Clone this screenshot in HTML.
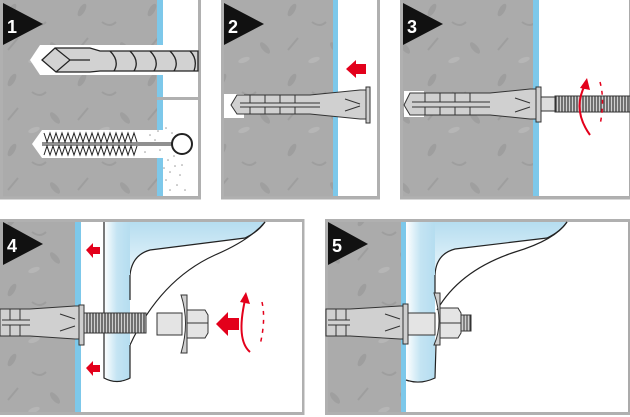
<!DOCTYPE html>
<html><head><meta charset="utf-8"><style>
html,body{margin:0;padding:0;background:#fff;width:630px;height:417px;overflow:hidden}
svg{display:block}
</style></head><body>
<svg width="630" height="417" viewBox="0 0 630 417" xmlns="http://www.w3.org/2000/svg" font-family="Liberation Sans, sans-serif">
<defs>
<linearGradient id="pipe" x1="0" x2="1" y1="0" y2="0">
<stop offset="0" stop-color="#fff"/><stop offset="0.5" stop-color="#c4e4f3"/><stop offset="1" stop-color="#b5ddf0"/>
</linearGradient>
<linearGradient id="brk" x1="0" x2="0" y1="0" y2="1">
<stop offset="0" stop-color="#b5ddf0"/><stop offset="1" stop-color="#eaf6fb"/>
</linearGradient>
<pattern id="speck" width="70" height="70" patternUnits="userSpaceOnUse">
<rect width="70" height="70" fill="#ababab"/>
<ellipse cx="12" cy="10" rx="3" ry="7" fill="#9e9e9e" transform="rotate(30 12 10)"/>
<path d="M32 22 q8 6 14 0" stroke="#9e9e9e" stroke-width="2" fill="none"/>
<ellipse cx="55" cy="48" rx="3" ry="7" fill="#9f9f9f" transform="rotate(-40 55 48)"/>
<path d="M8 50 l10 -12" stroke="#9e9e9e" stroke-width="2"/>
<ellipse cx="34" cy="60" rx="2.5" ry="6" fill="#b6b6b6" transform="rotate(70 34 60)"/>
</pattern>
</defs>

<!-- PANEL 1 -->
<rect x="1.5" y="-2" width="198" height="200" fill="url(#speck)" stroke="#b0b0b0" stroke-width="3"/>
<rect x="157" y="0" width="6" height="196" fill="#7dc8ea"/>
<rect x="163" y="0" width="35" height="196" fill="#fff"/>
<rect x="157" y="97" width="41" height="3" fill="#b0b0b0"/>
<path d="M40 45 H163 V75 H40 L30 60 Z" fill="#fff"/>
<path d="M42 60 L55 48 H90 L100 51 H198 V71 H100 L90 72 H56 Z" fill="#d2d2d2" stroke="#222" stroke-width="1.3"/>
<path d="M55 48 L70 60 L56 72 M70 60 H90" stroke="#222" stroke-width="1.2" fill="none"/>
<path d="M110 51 q10 10 4 20 M130 51 q10 10 4 20 M150 51 q10 10 4 20 M170 51 q10 10 4 20 M190 51 q8 8 4 20" stroke="#222" stroke-width="1.3" fill="none"/>
<path d="M42 130 H163 V158 H42 L32 144 Z" fill="#fff"/>
<g stroke="#222" stroke-width="1">
<path d="M44 133 l3 9 l3 -9 l3 9 l3 -9 l3 9 l3 -9 l3 9 l3 -9 l3 9 l3 -9 l3 9 l3 -9 l3 9 l3 -9 l3 9 l3 -9 l3 9 l3 -9 l3 9 l3 -9 l3 9 l3 -9 l3 9 l3 -9 l3 9 l3 -9 l3 9 l3 -9 l3 9 l3 -9 l3 9" fill="none"/>
<path d="M44 155 l3 -9 l3 9 l3 -9 l3 9 l3 -9 l3 9 l3 -9 l3 9 l3 -9 l3 9 l3 -9 l3 9 l3 -9 l3 9 l3 -9 l3 9 l3 -9 l3 9 l3 -9 l3 9 l3 -9 l3 9 l3 -9 l3 9 l3 -9 l3 9 l3 -9 l3 9 l3 -9 l3 9 l3 -9" fill="none"/>
<path d="M42 143 H172 M42 145 H172" />
</g>
<circle cx="182" cy="144" r="10" fill="#fff" stroke="#222" stroke-width="2"/>
<g fill="#999">
<circle cx="150" cy="135" r="0.8"/><circle cx="158" cy="131" r="0.8"/><circle cx="166" cy="128" r="0.8"/><circle cx="172" cy="133" r="0.8"/><circle cx="145" cy="152" r="0.8"/><circle cx="160" cy="150" r="0.8"/><circle cx="168" cy="160" r="0.8"/><circle cx="175" cy="166" r="0.8"/><circle cx="170" cy="172" r="0.8"/><circle cx="180" cy="175" r="0.8"/><circle cx="166" cy="180" r="0.8"/><circle cx="177" cy="185" r="0.8"/><circle cx="170" cy="190" r="0.8"/><circle cx="182" cy="165" r="0.8"/><circle cx="164" cy="168" r="0.8"/><circle cx="174" cy="156" r="0.8"/><circle cx="185" cy="190" r="0.8"/><circle cx="155" cy="140" r="0.8"/>
</g>
<path d="M3 3 V45 L43 24 Z" fill="#111"/>
<text x="7" y="33" fill="#fff" font-size="18" font-weight="bold">1</text>

<!-- PANEL 2 -->
<rect x="222.5" y="-2" width="156" height="200" fill="url(#speck)" stroke="#b0b0b0" stroke-width="3"/>
<rect x="333" y="0" width="5" height="196" fill="#7dc8ea"/>
<rect x="338" y="0" width="39" height="196" fill="#fff"/>
<rect x="224" y="94" width="20" height="24" fill="#fff"/>
<path d="M237 95 H310 L360 90 H367 V119 H360 L310 114 H237 L231 105 Z" fill="#d0d0d0" stroke="#333" stroke-width="1"/>
<path d="M240 103 H320 M240 107 H320 M250 95 v8 M265 95 v8 M280 95 v8 M295 95 v8 M250 107 v7 M265 107 v7 M280 107 v7 M295 107 v7 M345 99 l15 5 M345 111 l15 -5" stroke="#333" stroke-width="1" fill="none"/>
<rect x="366" y="87" width="4" height="36" fill="#cfcfcf" stroke="#333" stroke-width="1"/>
<path d="M346 69 L356 60 V64 H366 V74 H356 V78 Z" fill="#e3001b"/>
<path d="M224 3 V45 L264 24 Z" fill="#111"/>
<text x="228" y="33" fill="#fff" font-size="18" font-weight="bold">2</text>

<!-- PANEL 3 -->
<rect x="401.5" y="-2" width="230" height="200" fill="url(#speck)" stroke="#b0b0b0" stroke-width="3"/>
<rect x="533" y="0" width="6" height="196" fill="#7dc8ea"/>
<rect x="539" y="0" width="90" height="196" fill="#fff"/>
<rect x="404" y="91" width="20" height="26" fill="#fff"/>
<path d="M410 93 H490 L530 89 H537 V119 H530 L490 115 H410 L404 105 Z" fill="#d0d0d0" stroke="#333" stroke-width="1"/>
<path d="M412 102 H490 M412 107 H490 M425 93 v9 M440 93 v9 M455 93 v9 M470 93 v9 M425 107 v8 M440 107 v8 M455 107 v8 M470 107 v8 M515 98 l15 5 M515 112 l15 -5" stroke="#333" stroke-width="1" fill="none"/>
<rect x="536" y="87" width="5" height="35" fill="#cfcfcf" stroke="#333" stroke-width="1"/>
<rect x="541" y="97" width="14" height="14" fill="#ddd" stroke="#333" stroke-width="1"/>
<rect x="555" y="96" width="75" height="16" fill="#cfcfcf" stroke="#333" stroke-width="1"/>
<path d="M556 96 v16 M559 96 v16 M562 96 v16 M565 96 v16 M568 96 v16 M571 96 v16 M574 96 v16 M577 96 v16 M580 96 v16 M583 96 v16 M586 96 v16 M589 96 v16 M592 96 v16 M595 96 v16 M598 96 v16 M601 96 v16 M604 96 v16 M607 96 v16 M610 96 v16 M613 96 v16 M616 96 v16 M619 96 v16 M622 96 v16 M625 96 v16 M628 96 v16" stroke="#333" stroke-width="1.2"/>
<path d="M585 85 Q572 110 590 135" stroke="#e3001b" stroke-width="2" fill="none"/>
<path d="M580 88 L587 78 L590 90 Z" fill="#e3001b"/>
<path d="M600 82 Q605 100 600 125" stroke="#e3001b" stroke-width="1.5" stroke-dasharray="4 5" fill="none"/>
<path d="M403 3 V45 L443 24 Z" fill="#111"/>
<text x="407" y="33" fill="#fff" font-size="18" font-weight="bold">3</text>

<!-- PANEL 4 -->
<rect x="-2" y="220.5" width="305" height="193" fill="url(#speck)" stroke="#b0b0b0" stroke-width="3"/>
<rect x="75" y="222" width="6" height="190" fill="#7dc8ea"/>
<rect x="81" y="222" width="221" height="190" fill="#fff"/>
<path d="M130 222 H265 Q255 235 245 238 L150 250 Q132 255 130 275 Z" fill="url(#brk)"/>
<path d="M130 345 Q160 280 215 255 Q250 240 265 222" stroke="#222" stroke-width="1.2" fill="none"/>
<path d="M130 275 Q132 255 150 250 L245 238 Q258 232 265 222" stroke="#222" stroke-width="1.2" fill="none"/>
<path d="M104 222 V378 Q117 385 130 378 V222 Z" fill="url(#pipe)"/>
<path d="M104 222 V378 Q117 385 130 378 V345" stroke="#222" stroke-width="1.2" fill="none"/>
<path d="M130 275 V300" stroke="#222" stroke-width="1.2"/>
<path d="M0 309 H30 L75 306 H80 V339 H75 L30 336 H0 Z" fill="#d0d0d0" stroke="#333" stroke-width="1"/>
<path d="M2 320 H30 M2 325 H30 M10 309 v11 M20 309 v11 M10 325 v11 M20 325 v11 M60 314 l15 5 M60 331 l15 -5" stroke="#333" stroke-width="1" fill="none"/>
<rect x="79" y="305" width="5" height="40" fill="#cfcfcf" stroke="#333" stroke-width="1"/>
<rect x="84" y="313" width="62" height="20" fill="#cfcfcf" stroke="#333" stroke-width="1"/>
<path d="M87 313 v20 M90 313 v20 M93 313 v20 M96 313 v20 M99 313 v20 M102 313 v20 M105 313 v20 M108 313 v20 M111 313 v20 M114 313 v20 M117 313 v20 M120 313 v20 M123 313 v20 M126 313 v20 M129 313 v20 M132 313 v20 M135 313 v20 M138 313 v20 M141 313 v20 M144 313 v20" stroke="#333" stroke-width="1.2"/>
<rect x="157" y="313" width="25" height="22" fill="#e4e4e4" stroke="#333" stroke-width="1"/>
<path d="M181 295 Q190 323 181 353 H187 V295 Z" fill="#cfcfcf" stroke="#333" stroke-width="1"/>
<path d="M187 310 H205 L208 315 V333 L205 338 H187 Z" fill="#e4e4e4" stroke="#333" stroke-width="1"/>
<path d="M187 323 H208" stroke="#333" stroke-width="1"/>
<path d="M216 324 L228 312 V318 H239 V330 H228 V336 Z" fill="#e3001b"/>
<path d="M245 300 Q236 340 250 352" stroke="#e3001b" stroke-width="2" fill="none"/>
<path d="M240 302 L246 292 L250 304 Z" fill="#e3001b"/>
<path d="M262 302 Q266 320 260 345" stroke="#e3001b" stroke-width="1.5" stroke-dasharray="4 5" fill="none"/>
<path d="M86 250 L93 243 V247 H100 V254 H93 V258 Z" fill="#e3001b"/>
<path d="M86 368 L93 361 V365 H100 V372 H93 V376 Z" fill="#e3001b"/>
<path d="M3 222 V265 L43 244 Z" fill="#111"/>
<text x="7" y="252" fill="#fff" font-size="18" font-weight="bold">4</text>

<!-- PANEL 5 -->
<rect x="326.5" y="220.5" width="305" height="193" fill="url(#speck)" stroke="#b0b0b0" stroke-width="3"/>
<rect x="401" y="222" width="5" height="190" fill="#7dc8ea"/>
<rect x="406" y="222" width="222" height="190" fill="#fff"/>
<path d="M435 222 H567 Q557 235 547 238 L455 249 Q436 254 435 275 Z" fill="url(#brk)"/>
<path d="M437 310 Q460 270 515 252 Q555 240 567 222" stroke="#222" stroke-width="1.2" fill="none"/>
<path d="M435 275 Q436 254 455 249 L547 238 Q560 232 567 222" stroke="#222" stroke-width="1.2" fill="none"/>
<path d="M406 222 V380 Q420 385 435 378 V222 Z" fill="url(#pipe)"/>
<path d="M406 380 Q420 385 435 378 L436 345" stroke="#222" stroke-width="1.2" fill="none"/>
<path d="M435 275 V295" stroke="#222" stroke-width="1.2"/>
<path d="M326 309 H350 L400 306 H404 V339 H400 L350 336 H326 Z" fill="#d0d0d0" stroke="#333" stroke-width="1"/>
<path d="M328 320 H350 M328 325 H350 M336 309 v11 M346 309 v11 M336 325 v11 M346 325 v11 M385 314 l15 5 M385 331 l15 -5" stroke="#333" stroke-width="1" fill="none"/>
<rect x="403" y="304" width="5" height="40" fill="#cfcfcf" stroke="#333" stroke-width="1"/>
<rect x="408" y="313" width="27" height="22" fill="#e4e4e4" stroke="#333" stroke-width="1"/>
<path d="M434 293 Q444 323 434 345 H440 V293 Z" fill="#cfcfcf" stroke="#333" stroke-width="1"/>
<path d="M440 308 H458 L461 313 V333 L458 338 H440 Z" fill="#e4e4e4" stroke="#333" stroke-width="1"/>
<path d="M440 323 H461" stroke="#333" stroke-width="1"/>
<rect x="461" y="315" width="10" height="16" fill="#cfcfcf" stroke="#333" stroke-width="1"/>
<path d="M464 315 v16 M467 315 v16 M470 315 v16" stroke="#333"/>
<path d="M328 222 V265 L368 244 Z" fill="#111"/>
<text x="332" y="252" fill="#fff" font-size="18" font-weight="bold">5</text>
</svg>
</body></html>
